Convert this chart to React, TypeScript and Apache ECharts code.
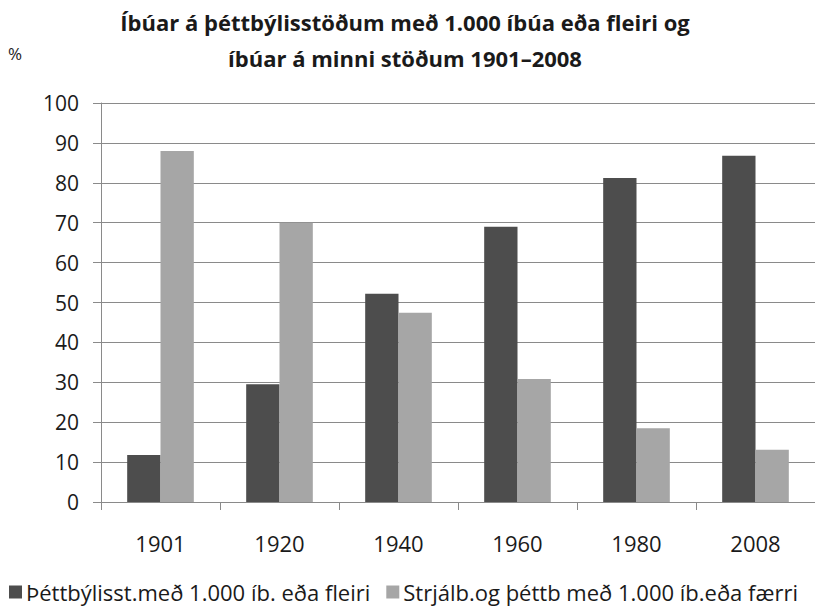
import React, { useEffect, useRef } from "react";
import * as echarts from "echarts";

const categories = ["1901", "1920", "1940", "1960", "1980", "2008"];
const urbanSeries = [11.8, 29.5, 52.2, 69.0, 81.2, 86.8];
const ruralSeries = [88.0, 70.0, 47.4, 30.8, 18.5, 13.1];
const seriesNames = [
  "Þéttbýlisst.með 1.000 íb. eða fleiri",
  "Strjálb.og þéttb með 1.000 íb.eða færri",
];
const titleLines = [
  "Íbúar á þéttbýlisstöðum með 1.000 íbúa eða fleiri og",
  "íbúar á minni stöðum 1901–2008",
];

const FONT = "'Open Sans', sans-serif";

export default function App() {
  const ref = useRef<HTMLDivElement>(null);
  useEffect(() => {
    if (!ref.current) return;
    const chart = echarts.init(ref.current, null, { renderer: "svg" });
    chart.setOption({
      animation: false,
      backgroundColor: "#ffffff",
      textStyle: { fontFamily: FONT },
      title: {
        text: titleLines.join("\n"),
        left: 400,
        textAlign: "center",
        top: -1,
        textStyle: {
          fontFamily: FONT,
          fontSize: 22,
          fontWeight: "bold",
          color: "#1a1a1a",
          lineHeight: 36,
        },
      },
      graphic: [
        {
          type: "text",
          left: 8,
          top: 45,
          style: { text: "%", font: `17px ${FONT}`, fill: "#222" },
        },
      ],
      legend: {
        left: 4,
        top: 576,
        icon: "rect",
        itemWidth: 13,
        itemHeight: 13,
        itemGap: 16,
        itemStyle: { borderWidth: 0 },
        textStyle: { fontFamily: FONT, fontSize: 22, color: "#1a1a1a", padding: [0, 0, 0, -1] },
        data: seriesNames,
      },
      grid: { left: 101, right: 0, top: 103, bottom: 113, containLabel: false },
      xAxis: {
        type: "category",
        data: categories,
        axisLine: { lineStyle: { color: "#8a8a8a", width: 1 } },
        axisTick: { show: true, length: 8, lineStyle: { color: "#8a8a8a" } },
        axisLabel: { fontFamily: FONT, fontSize: 22, color: "#1a1a1a", margin: 30 },
        splitLine: { show: false },
      },
      yAxis: {
        type: "value",
        min: 0,
        max: 100,
        interval: 10,
        axisLine: { show: true, lineStyle: { color: "#8a8a8a", width: 1 } },
        axisTick: { show: true, length: 8, lineStyle: { color: "#8a8a8a" } },
        axisLabel: { fontFamily: FONT, fontSize: 21, color: "#1a1a1a", margin: 22 },
        splitLine: { show: true, lineStyle: { color: "#8a8a8a", width: 1 } },
      },
      series: [
        {
          name: seriesNames[0],
          type: "bar",
          data: urbanSeries,
          itemStyle: { color: "#4d4d4d" },
          barGap: "0%",
          barCategoryGap: "44%",
        },
        {
          name: seriesNames[1],
          type: "bar",
          data: ruralSeries,
          itemStyle: { color: "#a6a6a6" },
          barGap: "0%",
          barCategoryGap: "44%",
        },
      ],
    });
    return () => chart.dispose();
  }, []);
  return (
    <div
      ref={ref}
      style={{ position: "fixed", left: 0, top: 0, width: 815, height: 615 }}
    />
  );
}
